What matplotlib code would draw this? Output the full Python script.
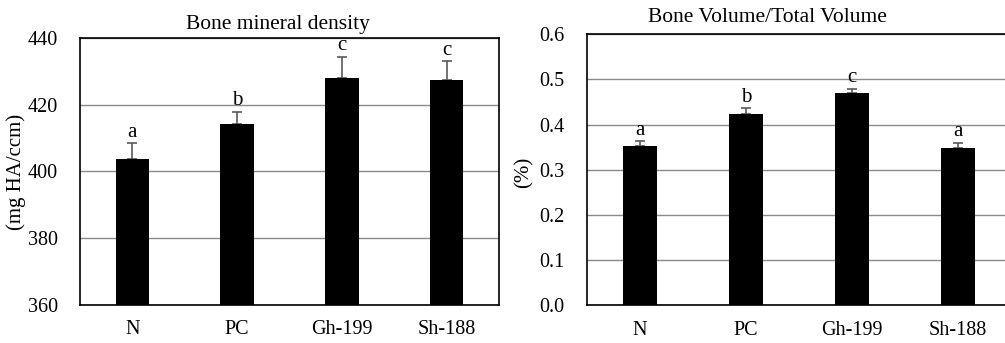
import matplotlib
matplotlib.use("Agg")
import matplotlib.pyplot as plt
import numpy as np

plt.rcParams['font.family'] = ['Liberation Serif', 'DejaVu Serif']

groups = ["N", "PC", "Gh-199", "Sh-188"]

bmd_values = [403.7, 414.2, 427.9, 427.3]
bmd_errors = [4.8, 3.7, 6.5, 5.8]
bmd_letters = ["a", "b", "c", "c"]
bmd_ticks = [360, 380, 400, 420, 440]

bvtv_values = [0.353, 0.424, 0.469, 0.349]
bvtv_errors = [0.011, 0.013, 0.011, 0.011]
bvtv_letters = ["a", "b", "c", "a"]
bvtv_ticks = [0.0, 0.1, 0.2, 0.3, 0.4, 0.5, 0.6]

W, H = 1005, 343
fig = plt.figure(figsize=(W / 100, H / 100), dpi=100)


def px_axes(left, top, right, bottom):
    return fig.add_axes([left / W, 1 - bottom / H, (right - left) / W, (bottom - top) / H])


def panel(ax, vals, errs, letters, ticks, fmt, ylim, ylabel, ylabel_x):
    x = np.arange(len(groups))
    ax.set_xlim(-0.5, len(groups) - 0.5)
    ax.set_ylim(*ylim)
    ax.set_yticks(ticks)
    ax.set_yticklabels([fmt.format(t) for t in ticks])
    ax.yaxis.grid(True, color='#8a8a8a', linewidth=1.0)
    ax.set_axisbelow(True)
    base = ylim[0]
    ax.bar(x, np.array(vals) - base, bottom=base, width=0.32, color='black', zorder=3)
    ax.errorbar(x, vals, yerr=[np.zeros(len(vals)), errs], fmt='none',
                ecolor='#5a5a5a', elinewidth=1.2, capsize=3.5, capthick=1.2, zorder=2)
    for xi, v, e, l in zip(x, vals, errs, letters):
        ax.annotate(l, (xi, v + e), xytext=(0, 1), textcoords='offset points',
                    ha='center', va='bottom', fontsize=15, zorder=4)
    ax.set_xticks(x)
    ax.set_xticklabels(groups)
    ax.tick_params(axis='both', length=0, labelsize=14.5)
    ax.tick_params(axis='x', pad=11)
    ax.tick_params(axis='y', pad=16)
    for s in ax.spines.values():
        s.set_color('black')
        s.set_linewidth(1.2)
    fig.text(ylabel_x / W, 1 - 172 / H, ylabel, rotation=90, ha='center', va='center', fontsize=15)


ax1 = px_axes(80, 38, 499, 305)
panel(ax1, bmd_values, bmd_errors, bmd_letters, bmd_ticks, "{:.0f}", (360, 440),
      "(mg HA/ccm)", 16)
fig.text(277.5 / W, 1 - 28.5 / H, "Bone mineral density", ha='center', va='baseline', fontsize=15.5)

ax2 = px_axes(587, 34.3, 1011, 305.3)
panel(ax2, bvtv_values, bvtv_errors, bvtv_letters, bvtv_ticks, "{:.1f}", (0, 0.6),
      "(%)", 524)
fig.text(767.8 / W, 1 - 21.5 / H, "Bone Volume/Total Volume", ha='center', va='baseline', fontsize=15.5)

fig.savefig("out.png", dpi=100)
